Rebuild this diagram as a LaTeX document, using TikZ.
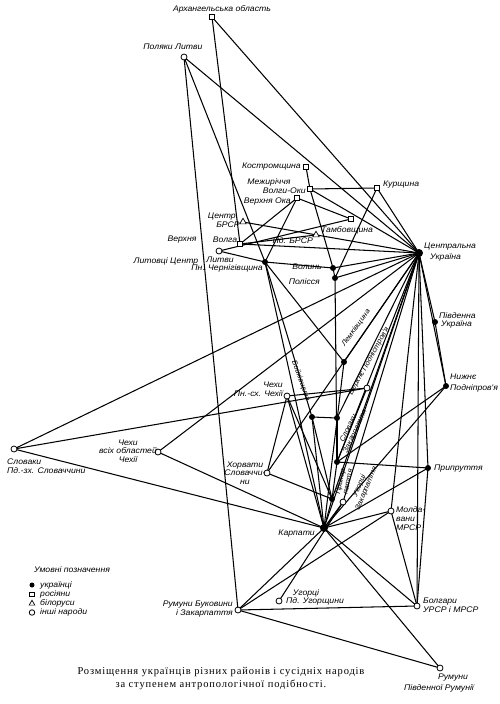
\documentclass[tikz,border=0pt]{standalone}
\usepackage{fontspec}
\setmainfont{Liberation Serif}
\newfontfamily\lblfont{Liberation Sans}[FakeStretch=1.07]
\usetikzlibrary{shapes.geometric,backgrounds}
\begin{document}
\begin{tikzpicture}[x=1pt,y=-1pt,
  edge/.style={line width=1.05pt},
  ua/.style={circle,fill=black,inner sep=0pt,minimum size=6pt},
  uabig/.style={circle,fill=black,inner sep=0pt,minimum size=8pt},
  ru/.style={rectangle,draw,fill=white,line width=0.8pt,inner sep=0pt,minimum size=5.5pt},
  by/.style={regular polygon,regular polygon sides=3,draw,fill=white,line width=0.7pt,inner sep=0pt,minimum size=7.5pt},
  ot/.style={circle,draw,fill=white,line width=0.8pt,inner sep=0pt,minimum size=6pt},
  lbl/.style={font=\lblfont\itshape\fontsize{8.1}{8.6}\selectfont,inner sep=0pt},
  small/.style={font=\lblfont\itshape\fontsize{7.2}{7.4}\selectfont},
  captxt/.style={font=\addfontfeatures{LetterSpace=8}\fontsize{10.5}{13}\selectfont,inner sep=0pt},
]
\useasboundingbox (0,0) rectangle (500,704);

% markers
\node[ru] (Arkh) at (212,17) {};
\node[ot] (PolLyt) at (184,57) {};
\node[ru] (Kostr) at (306,167) {};
\node[ru] (MezhVO) at (310,189) {};
\node[ru] (Kursh) at (377,188) {};
\node[ru] (VerkhOka) at (297,198) {};
\node[ru] (Tamb) at (351,219) {};
\node[by] (TsBRSR) at (243,222) {};
\node[by] (PdBRSR) at (316,235) {};
\node[ru] (Volga) at (240,244) {};
\node[ot] (LytTs) at (219,251) {};
\node[ua] (PnCherh) at (265,262) {};
\node[ua] (Volyn) at (333,268) {};
\node[ua] (Polissia) at (335,278) {};
\node[uabig] (TsUkr) at (419,253) {};
\node[ua] (PdUkr) at (435,322) {};
\node[ua] (NyzhPodn) at (446,386) {};
\node[ua] (Lemk) at (344,362) {};
\node[ua] (VerkhPodn) at (337,418) {};
\node[ua] (Boik) at (312,417) {};
\node[ot] (SlovZak) at (367,388) {};
\node[ot] (ChekhPn) at (287,396) {};
\node[ot] (ChekhAll) at (158,452) {};
\node[ot] (SlovPd) at (14,449) {};
\node[ua] (Zakar) at (337,462) {};
\node[ua] (Prypr) at (428,468) {};
\node[ot] (Khorv) at (267,473) {};
\node[ua] (Prykarp) at (332,499) {};
\node[ot] (UhZak) at (343,502) {};
\node[ot] (Mold) at (391,511) {};
\node[uabig] (Karp) at (324,528) {};
\node[ot] (UhPd) at (279,601) {};
\node[ot] (RumBuk) at (238,610) {};
\node[ot] (Bolh) at (417,606) {};
\node[ot] (RumPd) at (440,668) {};

\begin{scope}[on background layer]
\foreach \a/\b in {Arkh/TsUkr, Arkh/Volga, PolLyt/TsUkr, PolLyt/RumBuk, PolLyt/PnCherh,
  Kostr/MezhVO, MezhVO/Volyn, MezhVO/Kursh, MezhVO/TsUkr, Kursh/TsUkr, Kursh/Polissia,
  VerkhOka/Volga, VerkhOka/PnCherh, VerkhOka/Tamb, Tamb/LytTs, TsBRSR/TsUkr, PdBRSR/Volga,
  Volga/TsUkr, LytTs/PnCherh, PnCherh/Volyn, Volyn/TsUkr, Polissia/TsUkr, Volyn/Polissia,
  PnCherh/Lemk, Lemk/TsUkr, PnCherh/Boik, PnCherh/Karp, Boik/VerkhPodn, VerkhPodn/TsUkr,
  Polissia/Zakar, Zakar/SlovZak, Zakar/Prypr, Zakar/TsUkr, Zakar/NyzhPodn,
  Zakar/Prykarp, ChekhPn/SlovZak, ChekhPn/Khorv, ChekhPn/Karp, ChekhPn/Prykarp,
  SlovPd/SlovZak, SlovPd/TsUkr, SlovPd/Karp, ChekhAll/TsUkr, ChekhAll/Karp,
  Khorv/Prykarp, Khorv/TsUkr, Prykarp/Karp, Prykarp/TsUkr, Karp/TsUkr, Karp/Prypr,
  Karp/NyzhPodn, Karp/Mold, Karp/Bolh, Karp/RumPd, Karp/RumBuk, UhZak/Karp, UhZak/UhPd,
  Mold/TsUkr, Mold/Bolh, Mold/RumBuk, Prypr/TsUkr, Prypr/Bolh, Bolh/TsUkr, RumBuk/Bolh,
  RumBuk/RumPd, TsUkr/PdUkr, PdUkr/NyzhPodn, TsUkr/NyzhPodn, Boik/Karp, Boik/Prykarp,
  VerkhPodn/Zakar, UhZak/TsUkr, Lemk/Karp}
  \draw[edge] (\a.center) -- (\b.center);
\end{scope}

% labels
\node[lbl] (tArkh) at (222,9) {Архангельська область};
\node[lbl] (tPolLyt) at (173,47) {Поляки Литви};
\node[lbl,anchor=east] (tKostr) at (301,167) {Костромщина};
\node[lbl] (tMezh1) at (269,182.5) {Межиріччя};
\node[lbl,anchor=east] (tMezh2) at (306,190.5) {Волги-Оки};
\node[lbl,anchor=east] (tVOka) at (291,202) {Верхня Ока};
\node[lbl,anchor=west] (tKursh) at (383,185) {Курщина};
\node[lbl] (tTamb) at (347,230.5) {Тамбовщина};
\node[lbl] (tTsB1) at (223,216.5) {Центр.};
\node[lbl] (tTsB2) at (228,225) {БРСР};
\node[lbl,anchor=east] (tPdB) at (313,241) {Пд. БРСР};
\node[lbl] (tVolga1) at (182,240) {Верхня};
\node[lbl] (tVolga2) at (225,240) {Волга};
\node[lbl] (tLyt1) at (166,261) {Литовці Центр};
\node[lbl] (tLyt2) at (220,260) {Литви};
\node[lbl,anchor=east] (tPnCh) at (263,268.5) {Пн. Чернігівщина};
\node[lbl,anchor=east] (tVolyn) at (322,267) {Волинь};
\node[lbl,anchor=east] (tPol) at (320,281.5) {Полісся};
\node[lbl,anchor=west] (tTsU1) at (424,247) {Центральна};
\node[lbl,anchor=west] (tTsU2) at (430,257.5) {Україна};
\node[lbl,anchor=west] (tPdU1) at (439,316) {Південна};
\node[lbl,anchor=west] (tPdU2) at (441,325) {Україна};
\node[lbl,anchor=west] (tNP1) at (450,377) {Нижнє};
\node[lbl,anchor=west] (tNP2) at (450,388) {Подніпров'я};
\node[lbl,anchor=west] (tPrypr) at (434,469) {Припруття};
\node[lbl,small,rotate=54] (tLemk) at (356,328) {Лемківщина};
\node[lbl,small,rotate=61] (tVP) at (369,361) {Верхнє Подністров'я};
\node[lbl,small,rotate=-70] (tBoik) at (301,381) {Бойківщина};
\node[lbl,small,rotate=65,align=center] (tSlZ) at (352,430) {Словаки\\Закарпаття};
\node[lbl,small,rotate=78,align=center] (tPrk) at (344,481) {Прикар-\\паття};
\node[lbl,small,rotate=68,align=center] (tUhZ) at (363,487) {Угорці\\Закарпаття};
\node[lbl,align=center] (tKhorv) at (245,473) {Хорвати\\Словаччи-\\ни};
\node[lbl,anchor=east] (tKarp) at (315,533.5) {Карпати};
\node[lbl,align=left,anchor=west] (tMold) at (396,518.5) {Молда-\\вани\\МРСР};
\node[lbl,align=right,anchor=east] (tChPn) at (283,389.5) {Чехи\\Пн.-сх. Чехії};
\node[lbl,align=center] (tChAll) at (128,451) {Чехи\\всіх областей\\Чехії};
\node[lbl,align=left,anchor=north west] (tSlPd) at (7,459) {Словаки\\Пд.-зх. Словаччини};
\node[lbl] (tUhPd1) at (306,593) {Угорці};
\node[lbl,anchor=west] (tUhPd2) at (286,601.5) {Пд. Угорщини};
\node[lbl,align=right,anchor=east] (tRumB) at (233,609) {Румуни Буковини\\і Закарпаття};
\node[lbl,align=left,anchor=west] (tBolh) at (423,605.5) {Болгари\\УРСР і МРСР};
\node[lbl] (tRumP1) at (453,678) {Румуни};
\node[lbl] (tRumP2) at (439,688.5) {Південної Румунії};

% legend
\node[lbl] (tLeg) at (72,570) {Умовні позначення};
\node[ua,minimum size=5pt] (lg1) at (32,585) {};
\node[ru,minimum size=4.5pt] (lg2) at (32,594.5) {};
\node[by,minimum size=6.5pt] (lg3) at (32,603.5) {};
\node[ot,minimum size=5.5pt] (lg4) at (32,612.5) {};
\node[lbl,anchor=west] (tlg1) at (40,585) {українці};
\node[lbl,anchor=west] (tlg2) at (40,594.5) {росіяни};
\node[lbl,anchor=west] (tlg3) at (40,603.5) {білоруси};
\node[lbl,anchor=west] (tlg4) at (40,612.5) {інші народи};

% caption
\node[captxt] (cap1) at (221,672) {Розміщення українців різних районів і сусідніх народів};
\node[captxt] (cap2) at (221,685) {за ступенем антропологічної подібності.};
\end{tikzpicture}
\end{document}
